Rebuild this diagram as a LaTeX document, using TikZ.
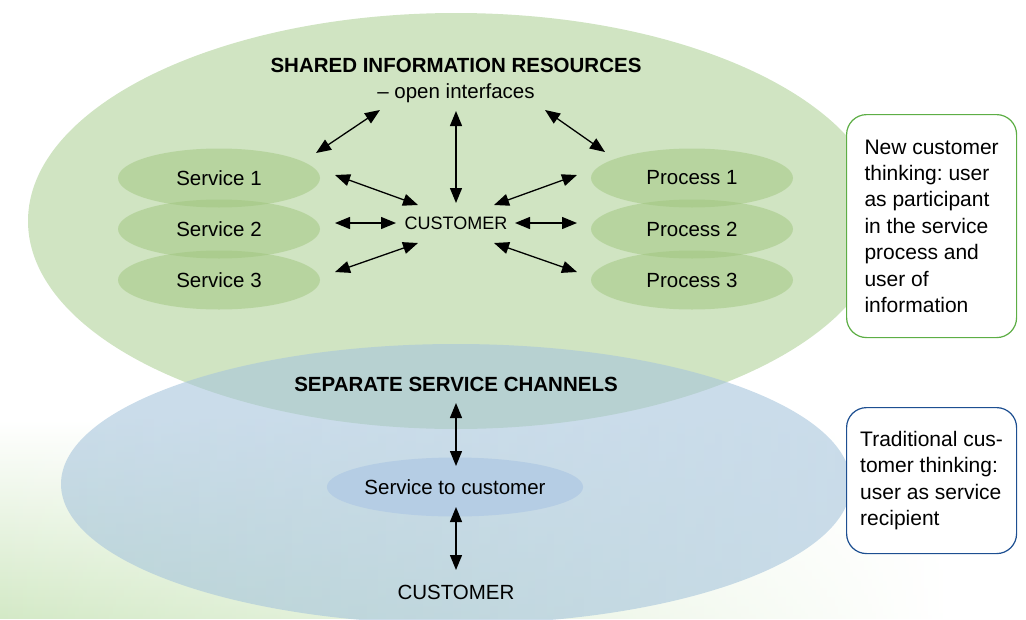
\documentclass[tikz,border=0pt]{standalone}
\usepackage{fontspec}
\setmainfont{Liberation Sans}
\frenchspacing
\usetikzlibrary{shapes.geometric,arrows.meta,fadings}
\definecolor{cGreen}{HTML}{D0E4C2}
\definecolor{cInner}{HTML}{A0C67E}
\definecolor{cBlue}{HTML}{A7C5DC}
\definecolor{cBlueIn}{HTML}{B5CDE4}
\definecolor{cBg}{HTML}{D3E9C6}
\definecolor{cGBorder}{HTML}{5DAE45}
\definecolor{cBBorder}{HTML}{1D4F91}
\tikzset{
  txt/.style={font=\fontsize{20.5}{26.4}\selectfont, inner sep=0pt},
  big/.style={ellipse, inner sep=0pt},
  small/.style={ellipse, inner sep=0pt, fill=cInner, fill opacity=0.5, text opacity=1,
     minimum width=202pt, minimum height=59pt, font=\fontsize{20.5}{24}\selectfont},
  arr/.style={{Triangle[length=15pt,width=12pt]}-{Triangle[length=15pt,width=12pt]}, line width=1.3pt, black},
  infobox/.style={draw, line width=1.2pt, rounded corners=20pt, fill=white, anchor=north west,
     minimum width=170pt, inner xsep=0pt, inner ysep=0pt, align=left,
     font=\fontsize{21}{26.4}\selectfont\frenchspacing}
}
\begin{document}
\begin{tikzpicture}[x=1pt,y=-1pt]
\useasboundingbox (0,0) rectangle (1026,619);
% background gradient
\shade[top color=white, bottom color=cBg, path fading=east] (0,420) rectangle (950,619);
% big ellipses
\node[big, fill=cGreen, minimum width=856pt, minimum height=416pt] (shared) at (456,221) {};
\node[small] (s1) at (219,178) {Service 1};
\node[small] (s2) at (219,229) {Service 2};
\node[small] (s3) at (219,280) {Service 3};
\node[small] (p1) at (692,178) {Process 1};
\node[small] (p2) at (692,229) {Process 2};
\node[small] (p3) at (692,280) {Process 3};
\node[big, fill=cBlue, fill opacity=0.6, minimum width=790pt, minimum height=280pt] (separate) at (456,484) {};
\node[big, fill=cBlueIn, minimum width=254pt, minimum height=59pt, font=\fontsize{20.5}{24}\selectfont] (stc) at (455,487) {Service to customer};
% texts
\node[txt, anchor=base, font=\fontsize{20.5}{24}\selectfont\bfseries] (title1) at (456,72) {SHARED INFORMATION RESOURCES};
\node[txt, anchor=base] (open) at (456,98) {– open interfaces};
\node[txt, anchor=base, font=\fontsize{18}{22}\selectfont] (cust) at (456,229) {CUSTOMER};
\node[txt, anchor=base, font=\fontsize{20.5}{24}\selectfont\bfseries] (title2) at (456,391) {SEPARATE SERVICE CHANNELS};
\node[txt, anchor=base] (cust2) at (456,599) {CUSTOMER};
% boxes
\node[infobox, draw=cGBorder, minimum height=223pt] (newbox) at (846,114)
  {New customer\\thinking: user\\as participant\\in the service\\process and\\user of\\information};
\node[infobox, draw=cBBorder, minimum height=146pt] (tradbox) at (846,407)
  {Traditional cus-\\tomer thinking:\\user as service\\recipient};
% arrow end points
\coordinate (a1s) at (316,153); \coordinate (a1e) at (380,110);
\coordinate (a2s) at (456,111); \coordinate (a2e) at (456,203);
\coordinate (a3s) at (545,110); \coordinate (a3e) at (605,152);
\coordinate (a4s) at (335,175); \coordinate (a4e) at (418,205);
\coordinate (a5s) at (335,223); \coordinate (a5e) at (396,223);
\coordinate (a6s) at (335,272); \coordinate (a6e) at (418,243);
\coordinate (a7s) at (577,175); \coordinate (a7e) at (494,205);
\coordinate (a8s) at (515,223); \coordinate (a8e) at (577,223);
\coordinate (a9s) at (577,272); \coordinate (a9e) at (494,243);
\coordinate (b1s) at (456,403); \coordinate (b1e) at (456,466);
\coordinate (b2s) at (456,507); \coordinate (b2e) at (456,570);
\foreach \a in {a1,a2,a3,a4,a5,a6,a7,a8,a9,b1,b2}
  \draw[arr] (\a s) -- (\a e);
\end{tikzpicture}
\end{document}
